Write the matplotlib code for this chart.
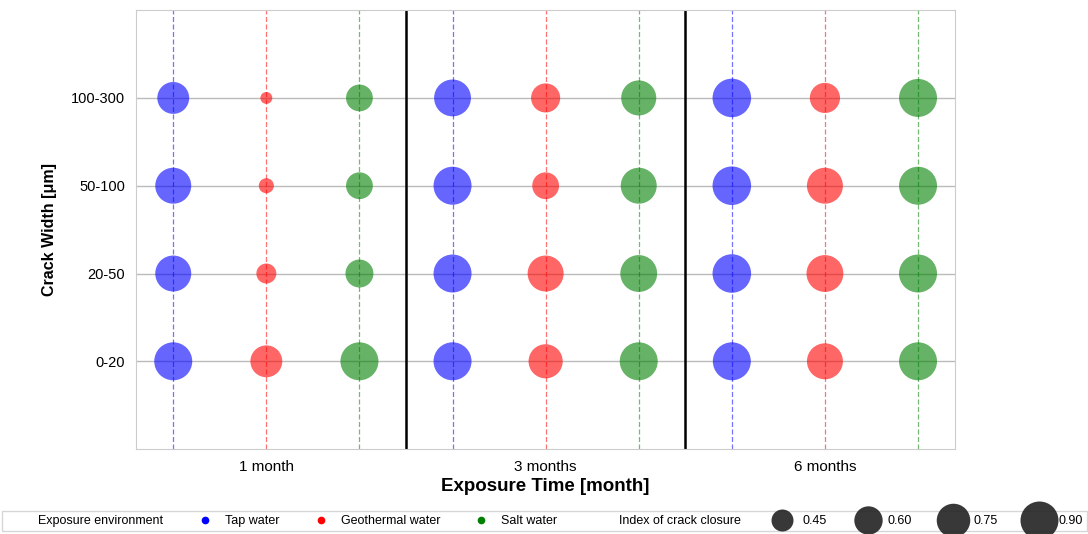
import numpy as np
import matplotlib
matplotlib.use('Agg')
import matplotlib.pyplot as plt
from matplotlib.lines import Line2D

plt.rcParams['font.family'] = ['Liberation Sans', 'DejaVu Sans']

widths = ['0-20', '20-50', '50-100', '100-300']
months = ['1 month', '3 months', '6 months']
envs = ['Tap water', 'Geothermal water', 'Salt water']
colors = ['blue', 'red', 'green']

# index of crack closure, [month][width] for each environment
tap = [[0.90, 0.83, 0.83, 0.70],
       [0.90, 0.90, 0.90, 0.86],
       [0.90, 0.92, 0.92, 0.92]]
geo = [[0.70, 0.41, 0.33, 0.29],
       [0.77, 0.83, 0.56, 0.62],
       [0.83, 0.86, 0.83, 0.65]]
salt = [[0.90, 0.59, 0.56, 0.56],
        [0.90, 0.86, 0.83, 0.80],
        [0.90, 0.90, 0.90, 0.90]]
closure = [tap, geo, salt]
size_levels = [0.45, 0.60, 0.75, 0.90]


def area(v):
    return np.maximum(1106 * np.asarray(v) - 247, 10)


fig = plt.figure(figsize=(10.88, 5.34), dpi=100)
ax = fig.add_axes([0.125, 0.159, 0.753, 0.822])

ypos = np.arange(len(widths))
for m in range(len(months)):
    for e in range(len(envs)):
        x = m * len(envs) + e
        ax.axvline(x, color=colors[e], ls=(0, (4, 2)), lw=0.9, alpha=0.55, zorder=1)
        ax.scatter(np.full(len(widths), x), ypos, s=area(closure[e][m]),
                   color=colors[e], alpha=0.6, edgecolors='none', zorder=3)
for m in range(1, len(months)):
    ax.axvline(m * len(envs) - 0.5, color='black', lw=1.8, zorder=2)

ax.set_xlim(-0.4, 8.4)
ax.set_ylim(-1, 4)
ax.set_yticks(ypos)
ax.set_yticklabels(widths, fontsize=10.5)
ax.set_xticks([m * len(envs) + 1 for m in range(len(months))])
ax.set_xticklabels(months, fontsize=11)
ax.tick_params(length=0, pad=8)
ax.grid(axis='y', color='#bbbbbb', lw=1)
ax.set_axisbelow(True)
for sp in ax.spines.values():
    sp.set_color('#cccccc')
ax.set_xlabel('Exposure Time [month]', fontsize=13.5, fontweight='bold', labelpad=3)
ax.set_ylabel('Crack Width [μm]', fontsize=11.5, fontweight='bold', labelpad=10)

handles = [Line2D([], [], ls='none', label='Exposure environment')]
for e in range(len(envs)):
    handles.append(Line2D([], [], ls='none', marker='o', color=colors[e],
                          markersize=4.5, label=envs[e]))
handles.append(Line2D([], [], ls='none', label='Index of crack closure'))
for v in size_levels:
    handles.append(Line2D([], [], ls='none', marker='o', color='#222222', alpha=0.9,
                          markeredgewidth=0, markersize=np.sqrt(area(v)), label=f'{v:.2f}'))

leg = fig.legend(handles=handles, loc='lower left', ncol=len(handles),
                 bbox_to_anchor=(0.002, 0.006, 0.997, 0.04), mode='expand',
                 fontsize=9, frameon=True, fancybox=False, borderpad=0.3,
                 handletextpad=0.6, columnspacing=1.0, borderaxespad=0)
leg.get_frame().set_edgecolor('#cccccc')
leg.get_frame().set_linewidth(1)

fig.savefig('out.png', dpi=100)
